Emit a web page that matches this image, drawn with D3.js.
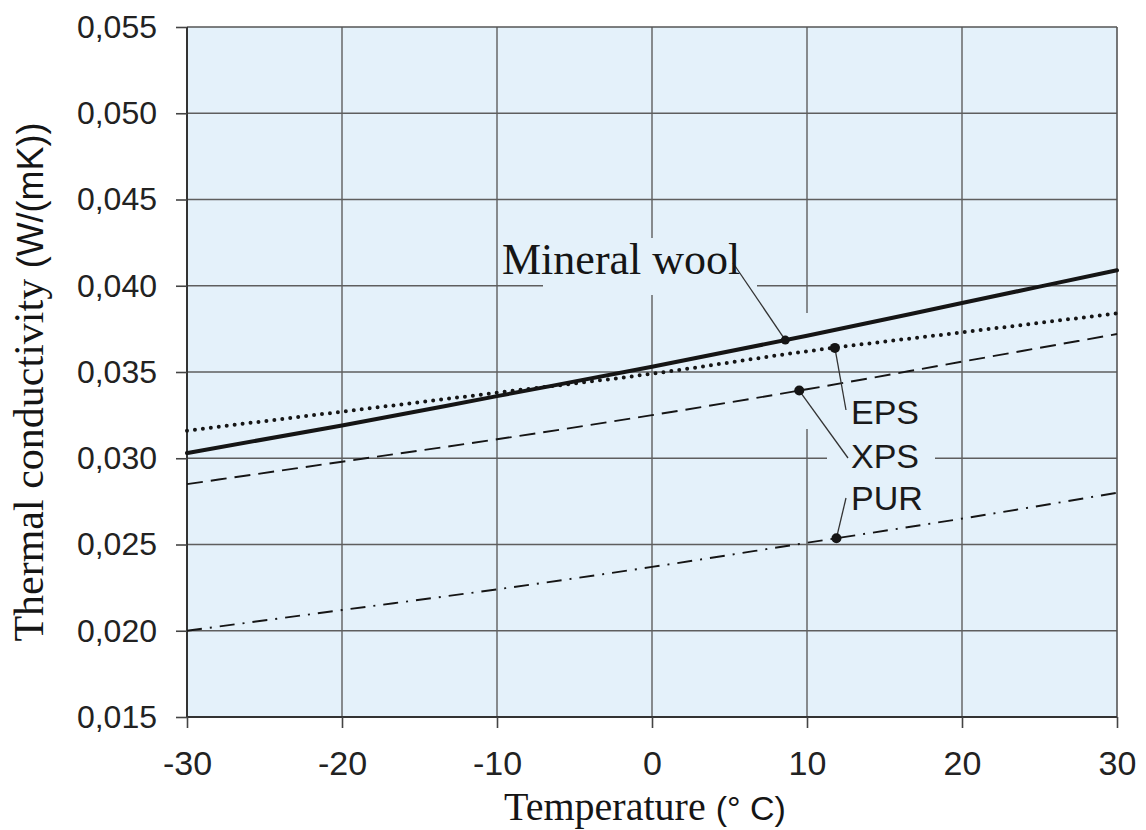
<!DOCTYPE html>
<html>
<head>
<meta charset="utf-8">
<script src="https://cdn.jsdelivr.net/npm/d3@7/dist/d3.min.js"></script>
<style>
  html, body { margin: 0; padding: 0; background: #ffffff; }
  svg { display: block; }
</style>
</head>
<body>
<svg id="chart" width="1146" height="830"></svg>
<script>
// ---------- data ----------
const temperatures = [-30, -20, -10, 0, 10, 20, 30];
const mineralWool = [0.0303, 0.0319, 0.0336, 0.0353, 0.0371, 0.0390, 0.0409];
const eps         = [0.0316, 0.0327, 0.0338, 0.0349, 0.0362, 0.0373, 0.0384];
const xps         = [0.0285, 0.0298, 0.0311, 0.0325, 0.0340, 0.0356, 0.0372];
const pur         = [0.0200, 0.0212, 0.0224, 0.0237, 0.0251, 0.0265, 0.0280];
const seriesNames = ["Mineral wool", "EPS", "XPS", "PUR"];
const markerTemps = [8.6, 11.8, 9.5, 11.9];
const xTicks = [-30, -20, -10, 0, 10, 20, 30];
const yTicks = [0.015, 0.020, 0.025, 0.030, 0.035, 0.040, 0.045, 0.050, 0.055];

// ---------- layout ----------
const L = 187, R = 1117, T = 27, B = 717;
const bg = "#e4f1fa";
const svg = d3.select("#chart");
const x = d3.scaleLinear().domain([-30, 30]).range([L, R]);
const y = d3.scaleLinear().domain([0.015, 0.055]).range([B, T]);
const sans = "'Liberation Sans', Arial, sans-serif";
const serif = "'Liberation Serif', 'Times New Roman', serif";

// plot background
svg.append("rect").attr("x", L).attr("y", T).attr("width", R - L).attr("height", B - T).attr("fill", bg);

const gridColor = "#5e5e5e";
// vertical gridlines
svg.append("g").selectAll("line").data(xTicks.slice(1, -1)).join("line")
  .attr("x1", d => x(d)).attr("x2", d => x(d)).attr("y1", T).attr("y2", B)
  .attr("stroke", gridColor).attr("stroke-width", 1.4);

// mask over vertical gridline near markers
svg.append("rect").attr("x", x(10) - 6).attr("y", 313).attr("width", 12).attr("height", 116).attr("fill", bg);

// horizontal gridlines
svg.append("g").selectAll("line").data(yTicks.slice(1, -1)).join("line")
  .attr("x1", L).attr("x2", R).attr("y1", d => y(d)).attr("y2", d => y(d))
  .attr("stroke", gridColor).attr("stroke-width", 1.4);

// label background masks
svg.append("rect").attr("x", 543).attr("y", 238).attr("width", 214).attr("height", 57).attr("fill", bg);
svg.append("rect").attr("x", 827).attr("y", 380).attr("width", 108).attr("height", 140).attr("fill", bg);

// frame
svg.append("line").attr("x1", L).attr("x2", R).attr("y1", T).attr("y2", T).attr("stroke", "#555").attr("stroke-width", 1.6);
svg.append("line").attr("x1", R).attr("x2", R).attr("y1", T).attr("y2", B).attr("stroke", "#555").attr("stroke-width", 1.6);
svg.append("line").attr("x1", L).attr("x2", L).attr("y1", T).attr("y2", B).attr("stroke", "#333").attr("stroke-width", 2);
svg.append("line").attr("x1", L).attr("x2", R).attr("y1", B).attr("y2", B).attr("stroke", "#333").attr("stroke-width", 2);

// axes
const fmtY = v => d3.format(".3f")(v).replace(".", ",");
const xAxis = svg.append("g").attr("transform", `translate(0,${B})`)
  .call(d3.axisBottom(x).tickValues(xTicks).tickSize(11).tickPadding(23).tickFormat(d3.format("d")));
const yAxis = svg.append("g").attr("transform", `translate(${L},0)`)
  .call(d3.axisLeft(y).tickValues(yTicks).tickSize(11).tickPadding(19).tickFormat(fmtY));
[xAxis, yAxis].forEach(a => {
  a.select(".domain").remove();
  a.selectAll(".tick line").attr("stroke", "#444").attr("stroke-width", 1.6);
  a.selectAll(".tick text").attr("fill", "#222").attr("font-family", sans);
});
xAxis.selectAll(".tick text").attr("font-size", 34).text(d => d < 0 ? "-" + Math.abs(d) : d);
yAxis.selectAll(".tick text").attr("font-size", 32);

// series lines
const allSeries = [mineralWool, eps, xps, pur];
const styles = [
  { width: 4, dash: null, cap: "round" },
  { width: 4, dash: "0 8", cap: "round" },
  { width: 1.9, dash: "16 8", cap: "butt" },
  { width: 1.9, dash: "15 8 2 8", cap: "butt" }
];
const lineGen = d3.line().x(d => x(d[0])).y(d => y(d[1])).curve(d3.curveMonotoneX);
allSeries.forEach((s, i) => {
  const pts = temperatures.map((t, j) => [t, s[j]]);
  svg.append("path").datum(pts)
    .attr("d", lineGen)
    .attr("fill", "none")
    .attr("stroke", "#151515")
    .attr("stroke-width", styles[i].width)
    .attr("stroke-linecap", styles[i].cap)
    .attr("stroke-dasharray", styles[i].dash);
});

// value of a series at temperature t (linear between data points)
function valueAt(s, t) {
  const i = Math.min(temperatures.length - 2, Math.max(0, Math.floor((t - temperatures[0]) / 10)));
  const f = (t - temperatures[i]) / (temperatures[i + 1] - temperatures[i]);
  return s[i] + f * (s[i + 1] - s[i]);
}

// leader line label anchors (pixel layout)
const labelEnds = [[733, 263], [846, 410], [848, 458], [846, 498]];
allSeries.forEach((s, i) => {
  const mx = x(markerTemps[i]), my = y(valueAt(s, markerTemps[i]));
  svg.append("line").attr("x1", labelEnds[i][0]).attr("y1", labelEnds[i][1])
    .attr("x2", mx).attr("y2", my).attr("stroke", "#333").attr("stroke-width", 1.3);
  svg.append("circle").attr("cx", mx).attr("cy", my).attr("r", i === 0 ? 4.5 : 5).attr("fill", "#151515");
});

// labels
svg.append("text").attr("x", 502).attr("y", 274).attr("font-family", serif).attr("font-size", 44)
  .attr("fill", "#151515").text(seriesNames[0]);
const sansLabelY = [424, 468, 510];
[1, 2, 3].forEach((k, i) => {
  svg.append("text").attr("x", 851).attr("y", sansLabelY[i]).attr("font-family", sans).attr("font-size", 34)
    .attr("fill", "#1a1a1a").text(seriesNames[k]);
});

// axis titles
const xt = svg.append("text").attr("x", 645).attr("y", 820).attr("text-anchor", "middle").attr("fill", "#151515");
xt.append("tspan").attr("font-family", serif).attr("font-size", 40).text("Temperature ");
xt.append("tspan").attr("font-family", sans).attr("font-size", 34).text("(\u00B0 C)");

const yt = svg.append("text").attr("transform", "translate(43,382) rotate(-90)").attr("text-anchor", "middle").attr("fill", "#151515");
yt.append("tspan").attr("font-family", serif).attr("font-size", 42).text("Thermal conductivity ");
yt.append("tspan").attr("font-family", sans).attr("font-size", 36).text("(W/(mK))");
</script>
</body>
</html>
